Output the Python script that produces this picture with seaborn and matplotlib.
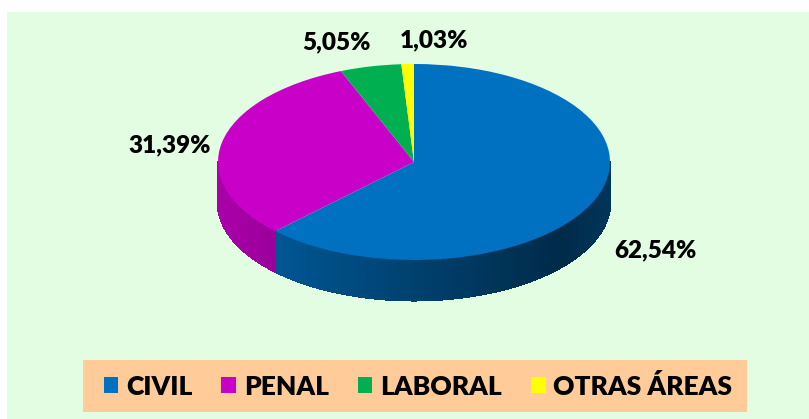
import numpy as np
import matplotlib
matplotlib.use("Agg")
import matplotlib.pyplot as plt
from matplotlib.patches import Rectangle, Patch
from matplotlib.collections import PolyCollection
import seaborn as sns

# ---- data ----
categories = ["CIVIL", "PENAL", "LABORAL", "OTRAS ÁREAS"]
values = [62.54, 31.39, 5.05, 1.03]
colors = ["#0070C0", "#C800C8", "#00B050", "#FFFF00"]

sns.set_theme(style="white")
plt.rcParams["font.family"] = ["Lato", "DejaVu Sans"]

W, H = 809, 419
fig = plt.figure(figsize=(W / 100, H / 100), dpi=100, facecolor="white")

# green panel
fig.patches.append(Rectangle((7 / W, 0), 1, (H - 12) / H, transform=fig.transFigure,
                             facecolor="#E3FDE3", edgecolor="none", zorder=-2))
# legend box
fig.patches.append(Rectangle((83 / W, (H - 412) / H), (747 - 83) / W, 52 / H,
                             transform=fig.transFigure, facecolor="#FFCC99",
                             edgecolor="none", zorder=-1))

ax = fig.add_axes([0, 0, 1, 1])
ax.patch.set_alpha(0)

pal = sns.color_palette(colors)
depth = 0.41

# side walls (front half only), shaded
total = sum(values)
start = 90.0
polys, fcs = [], []
for v, c in zip(values, pal):
    span = v / total * 360.0
    a_hi, a_lo = start, start - span
    start = a_lo
    for shift in (0, -360, 360):
        lo = max(a_lo + shift, -180.0)
        hi = min(a_hi + shift, 0.0)
        if hi <= lo:
            continue
        angs = np.linspace(lo, hi, max(2, int((hi - lo) / 0.5) + 2))
        for t1, t2 in zip(angs[:-1], angs[1:]):
            r1, r2 = np.radians(t1), np.radians(t2)
            xm = np.cos((r1 + r2) / 2)
            f = np.interp(xm, [-1, 0.75, 1], [0.85, 0.38, 0.47])
            col = tuple(np.clip(np.array(c) * f, 0, 1))
            polys.append([(np.cos(r1), np.sin(r1)), (np.cos(r2), np.sin(r2)),
                          (np.cos(r2), np.sin(r2) - depth), (np.cos(r1), np.sin(r1) - depth)])
            fcs.append(col)
pc = PolyCollection(polys, facecolors=fcs, edgecolors=fcs, linewidths=1.2,
                    antialiased=False, zorder=1)
ax.add_collection(pc)

wedges, _ = ax.pie(values, colors=pal, startangle=90, counterclock=False, radius=1,
                   wedgeprops=dict(linewidth=0), frame=True)
for w in wedges:
    w.set_zorder(2)

cx, cy = 414, 162
ax.set_aspect("auto")
ax.set_xlim(-cx / 196, (W - cx) / 196)
ax.set_ylim(-(H - cy) / 98, cy / 98)
ax.axis("off")

# percentage labels
label_pos = [(1.23, -0.90), (-1.245, 0.17), (-0.395, 1.22), (0.10, 1.24)]
for v, (lx, ly) in zip(values, label_pos):
    ax.text(lx, ly, f"{v:.2f}%".replace(".", ","), ha="center", va="center",
            fontsize=17.5, fontweight="heavy", color="black", zorder=5)

handles = [Patch(facecolor=c, edgecolor="none") for c in pal]
leg = fig.legend(handles, categories, loc="center", bbox_to_anchor=(418 / W, (H - 386) / H),
                 ncol=4, frameon=False, prop=dict(size=19, weight="heavy"),
                 handlelength=0.55, handleheight=0.55, handletextpad=0.3, columnspacing=1.1)
for t in leg.get_texts():
    t.set_color("black")

fig.savefig("out.png", dpi=100, facecolor="white")
